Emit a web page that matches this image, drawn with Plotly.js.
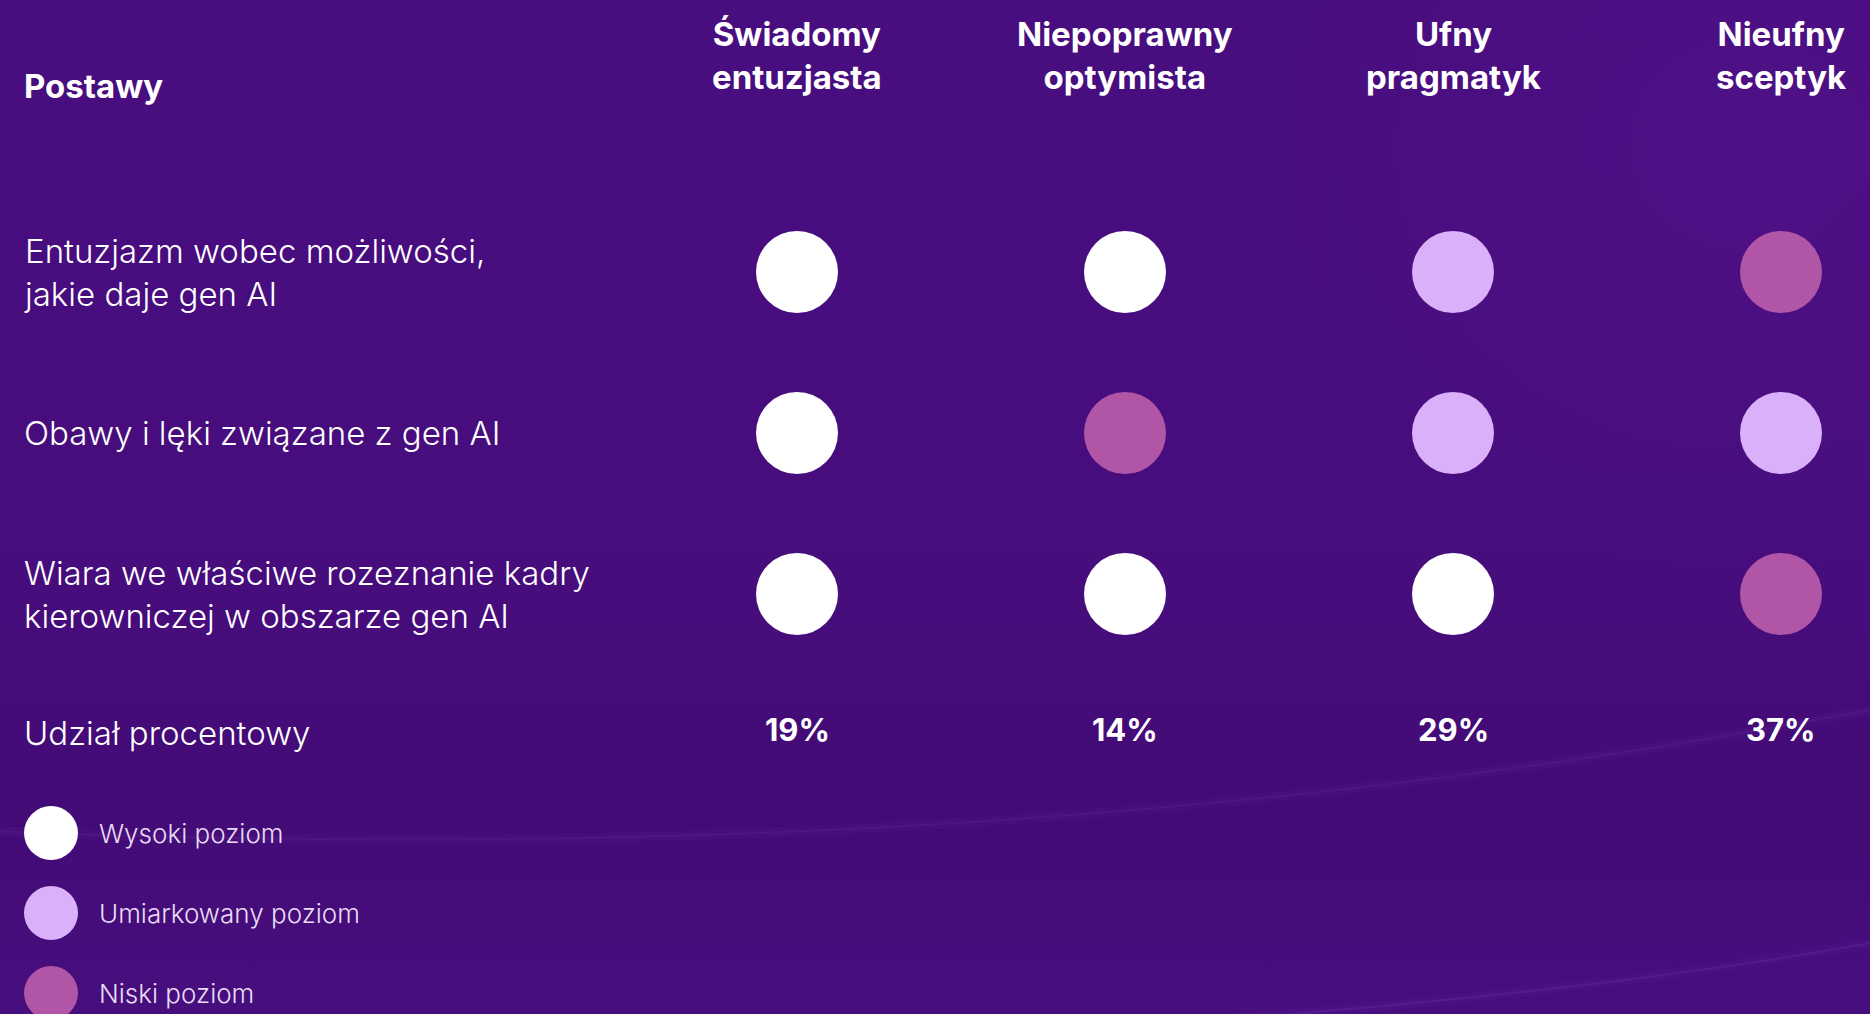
<!DOCTYPE html>
<html>
<head>
<meta charset="utf-8">
<script src="https://cdn.plot.ly/plotly-3.0.1.min.js"></script>
<style>
  html, body { margin: 0; padding: 0; width: 1870px; height: 1014px; overflow: hidden; }
  body {
    background:
      radial-gradient(ellipse 700px 600px at 1750px 150px, rgba(95,25,150,0.30), rgba(0,0,0,0) 70%),
      linear-gradient(180deg, #480d7f 0%, #470d7d 55%, #430b76 80%, #470e7e 100%);
  }
  #chart { width: 1870px; height: 1014px; }
</style>
</head>
<body>
<div id="chart"></div>
<script>
// ---- data ----
const archetypes = ["Świadomy<br>entuzjasta", "Niepoprawny<br>optymista", "Ufny<br>pragmatyk", "Nieufny<br>sceptyk"];
const statements = [
  "Entuzjazm wobec możliwości,<br>jakie daje gen AI",
  "Obawy i lęki związane z gen AI",
  "Wiara we właściwe rozeznanie kadry<br>kierowniczej w obszarze gen AI"
];
// level per statement (rows) x archetype (columns)
const levels = [
  ["Wysoki", "Wysoki", "Umiarkowany", "Niski"],
  ["Wysoki", "Niski", "Umiarkowany", "Umiarkowany"],
  ["Wysoki", "Wysoki", "Wysoki", "Niski"]
];
const shares = ["19%", "14%", "29%", "37%"];
const legendKeys = ["Wysoki", "Umiarkowany", "Niski"];
const legendLabels = ["Wysoki poziom", "Umiarkowany poziom", "Niski poziom"];
const headerTitle = "Postawy";
const shareTitle = "Udział procentowy";

// ---- styles ----
const levelColors = { "Wysoki": "#ffffff", "Umiarkowany": "#dbb0fb", "Niski": "#b155a6" };
const FONT = "Inter, Roboto, 'Open Sans', sans-serif";

const xs = [], ys = [], cs = [];
statements.forEach((s, r) => {
  archetypes.forEach((a, c) => {
    xs.push(a); ys.push(s); cs.push(levelColors[levels[r][c]]);
  });
});

const traces = [
  {
    type: "scatter", mode: "markers", x: xs, y: ys,
    marker: { size: 82, color: cs, line: { width: 0 } },
    hoverinfo: "skip", showlegend: false, xaxis: "x", yaxis: "y"
  },
  {
    type: "scatter", mode: "markers",
    x: legendKeys.map(() => "key"), y: legendKeys,
    marker: { size: 54, color: legendKeys.map(k => levelColors[k]), line: { width: 0 } },
    hoverinfo: "skip", showlegend: false, xaxis: "x2", yaxis: "y2"
  }
];

const annotations = [];
archetypes.forEach(a => {
  annotations.push({
    x: a, xref: "x", y: 1 - 56 / 1014, yref: "paper", text: a, showarrow: false,
    xanchor: "center", yanchor: "middle", align: "center",
    font: { family: FONT, size: 33, color: "#ffffff", weight: 700 }
  });
});
shares.forEach((p, i) => {
  annotations.push({
    x: archetypes[i], xref: "x", y: 1 - 729 / 1014, yref: "paper", text: p, showarrow: false,
    xanchor: "center", yanchor: "middle",
    font: { family: FONT, size: 31, color: "#ffffff", weight: 700 }
  });
});
statements.forEach(s => {
  annotations.push({
    x: 22 / 1870, xref: "paper", y: s, yref: "y", text: s, showarrow: false,
    xanchor: "left", yanchor: "middle", align: "left",
    font: { family: FONT, size: 33, color: "#ffffff", weight: 300 }
  });
});
annotations.push({
  x: 22 / 1870, xref: "paper", y: 1 - 733 / 1014, yref: "paper", text: shareTitle, showarrow: false,
  xanchor: "left", yanchor: "middle", align: "left",
  font: { family: FONT, size: 33, color: "#ffffff", weight: 300 }
});
annotations.push({
  x: 22 / 1870, xref: "paper", y: 1 - 86 / 1014, yref: "paper", text: headerTitle, showarrow: false,
  xanchor: "left", yanchor: "middle", align: "left",
  font: { family: FONT, size: 33, color: "#ffffff", weight: 700 }
});
legendKeys.forEach((k, i) => {
  annotations.push({
    x: "key", xref: "x2", y: k, yref: "y2", text: legendLabels[i], showarrow: false,
    xanchor: "left", yanchor: "middle", xshift: 46, align: "left",
    font: { family: FONT, size: 26, color: "#e8dcf5", weight: 300 }
  });
});

// faint decorative light streaks in the background (bottom right)
const streak = (path, a) => ([
  { type: "path", xref: "paper", yref: "paper", layer: "below", path: path,
    line: { color: "rgba(160,100,235," + (a * 0.5) + ")", width: 10 } },
  { type: "path", xref: "paper", yref: "paper", layer: "below", path: path,
    line: { color: "rgba(175,120,245," + a + ")", width: 2.5 } }
]);
const shapes = [].concat(
  streak("M 0.0 0.18 Q 0.55 0.14 1.0 0.30", 0.07),
  streak("M 0.62 -0.01 Q 0.85 0.02 1.0 0.07", 0.09)
);

const hidden = { showgrid: false, zeroline: false, showticklabels: false, showline: false, ticks: "", fixedrange: true };

const layout = {
  width: 1870, height: 1014,
  margin: { l: 0, r: 0, t: 0, b: 0, pad: 0 },
  paper_bgcolor: "rgba(0,0,0,0)", plot_bgcolor: "rgba(0,0,0,0)",
  showlegend: false,
  // column 0 at 797px, step 328px
  xaxis: Object.assign({ type: "category", domain: [0, 1], range: [-797 / 328, (1870 - 797) / 328] }, hidden),
  // row 0 at 272px, step 161px (reversed)
  yaxis: Object.assign({ type: "category", domain: [0, 1], range: [(1014 - 272) / 161, -272 / 161] }, hidden),
  // legend axes: key column at 51px, rows at 833px step 80px
  xaxis2: Object.assign({ type: "category", domain: [0, 1], anchor: "y2", overlaying: "x", range: [-51 / 328, (1870 - 51) / 328] }, hidden),
  yaxis2: Object.assign({ type: "category", domain: [0, 1], anchor: "x2", overlaying: "y", range: [(1014 - 833) / 80, -833 / 80] }, hidden),
  annotations: annotations,
  shapes: shapes,
  font: { family: FONT, color: "#ffffff" }
};

Plotly.newPlot("chart", traces, layout, { displayModeBar: false, staticPlot: true });
</script>
</body>
</html>
